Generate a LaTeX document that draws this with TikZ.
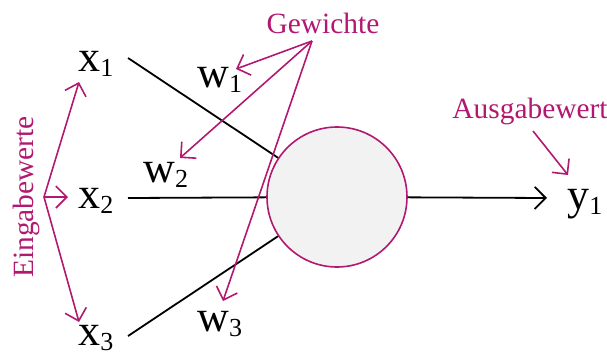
\documentclass[tikz,border=0pt]{standalone}
\usepackage{fontspec}
\setmainfont{Liberation Serif}
\usetikzlibrary{arrows.meta}

\definecolor{accent}{RGB}{178,24,112}
\newcommand{\lowidx}[1]{\raisebox{-2.5pt}{\fontsize{13}{13}\selectfont #1}}
\tikzset{
	var/.style={anchor=base west, inner sep=0pt, font=\fontsize{22}{22}\selectfont},
	note/.style={text=accent, inner sep=0pt, font=\fontsize{14.7}{14.7}\selectfont},
	wire/.style={line width=0.9pt},
	pointer/.style={accent, line width=0.8pt, -{Straight Barb[length=5.5pt,width=11pt]}},
}

\begin{document}
\begin{tikzpicture}[x=0.5pt, y=-0.5pt]
			\useasboundingbox (0,0) rectangle (607,354);
			\node[circle, draw=accent, fill=gray!10, line width=0.8pt, minimum size=70pt, inner sep=0pt] (neuron) at (337,197){};
			
			\node[var] (x1) at (78,71) {x\lowidx{1}};
			\node[var] (x2) at (78,208) {x\lowidx{2}};
			\node[var] (x3) at (78,345) {x\lowidx{3}};
			\node[var] (w1) at (197,87) {w\lowidx{1}};
			\node[var] (w2) at (143,182) {w\lowidx{2}};
			\node[var] (w3) at (197,331) {w\lowidx{3}};
			\node[var] (y1) at (567,209) {y\lowidx{1}};
			
			\coordinate (in1) at (128,58);
			\coordinate (in2) at (128,198);
			\coordinate (in3) at (128,336);
			\coordinate (out) at (547,198);
			\foreach \i in {in1,in2,in3}
				\draw[wire] (\i) -- (neuron);
			\draw[wire, -{Straight Barb[length=5.5pt,width=11pt]}] (neuron) -- (out);
			
			\node[note, anchor=base] (gewichte) at (323,33) {Gewichte};
			\coordinate (gw) at (312,41);
			\coordinate (w1tip) at (236,69);
			\coordinate (w2tip) at (180,158);
			\coordinate (w3tip) at (223,301);
			\foreach \t in {w1tip,w2tip,w3tip}
				\draw[pointer] (gw) -- (\t);
			
			\node[note, rotate=90, anchor=base] (eingabe) at (33,197) {Eingabewerte};
			\coordinate (ew) at (44,197);
			\coordinate (x1tip) at (79,82);
			\coordinate (x2tip) at (68,197);
			\coordinate (x3tip) at (79,322);
			\foreach \t in {x1tip,x2tip,x3tip}
				\draw[pointer] (ew) -- (\t);
			
			\node[note, anchor=base] (ausgabe) at (530,118) {Ausgabewert};
			\coordinate (aw) at (533,131);
			\coordinate (y1tip) at (568,175);
			\draw[pointer] (aw) -- (y1tip);
		\end{tikzpicture}
\end{document}
